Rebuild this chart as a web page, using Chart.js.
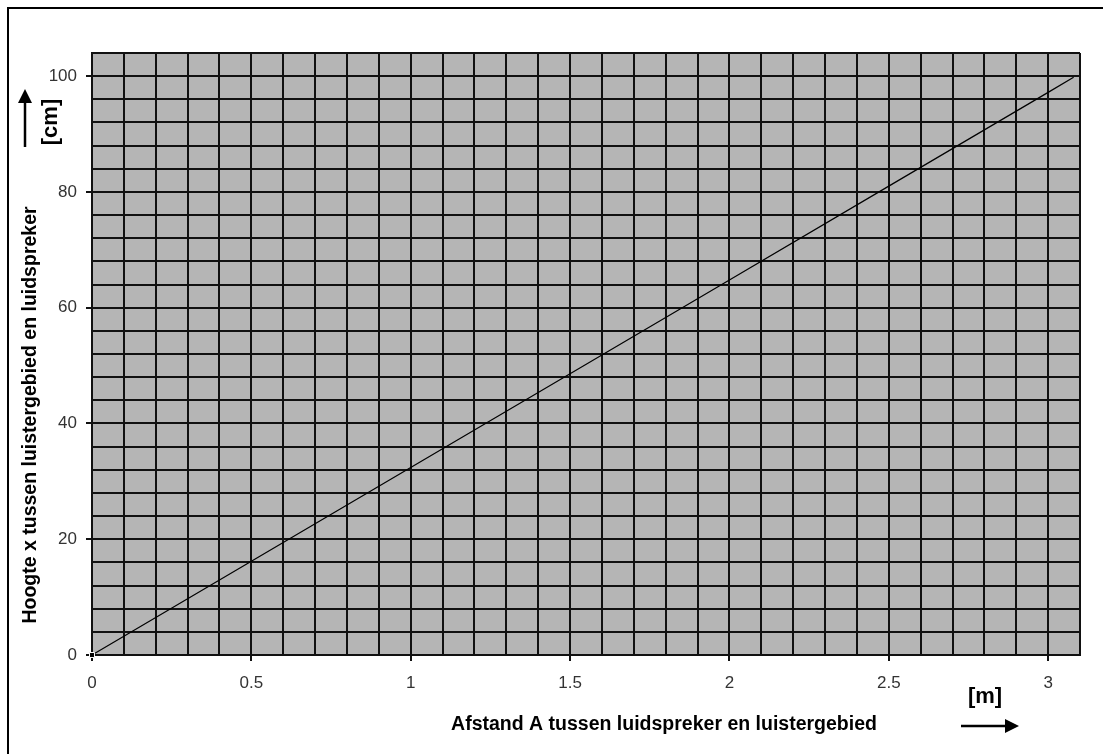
<!DOCTYPE html>
<html>
<head>
<meta charset="utf-8">
<script src="https://cdn.jsdelivr.net/npm/chart.js@4.4.1/dist/chart.umd.min.js"></script>
<style>
  html, body { margin: 0; padding: 0; background: #fff; }
  canvas { display: block; }
</style>
</head>
<body>
<canvas id="grafiek" width="1103" height="754"></canvas>
<script>
// afstand A [m] en hoogte x [cm]
const afstand = [0, 0.5, 1, 1.5, 2, 2.5, 3, 3.08];
const hoogte  = [0, 16.2, 32.4, 48.6, 64.8, 81.0, 97.2, 99.8];

// labels op de assen
const xTickLabels = [0, 0.5, 1, 1.5, 2, 2.5, 3];
const yTickLabels = [0, 20, 40, 60, 80, 100];

// rasterstappen
const X_MAX = 3.1, X_STAP = 0.1;
const Y_MAX = 104, Y_STAP = 4;

const isLabel = (lijst, v) => lijst.some(l => Math.abs(l - v) < 1e-6);

// grijze achtergrond + kader + pijlen en eenheden
const extraTekening = {
  id: "extraTekening",
  beforeDraw(chart) {
    const { ctx, chartArea: a } = chart;
    ctx.save();
    ctx.fillStyle = "#b5b5b5";
    ctx.fillRect(a.left, a.top, a.right - a.left, a.bottom - a.top);
    ctx.restore();
  },
  afterDraw(chart) {
    const ctx = chart.ctx;
    ctx.save();
    // kader (boven en links)
    ctx.strokeStyle = "#000";
    ctx.lineWidth = 2;
    ctx.beginPath();
    ctx.moveTo(8, 754);
    ctx.lineTo(8, 8);
    ctx.lineTo(1103, 8);
    ctx.stroke();

    // astitels
    ctx.fillStyle = "#000";
    ctx.font = "bold 19.5px 'Liberation Sans', Arial, sans-serif";
    ctx.textAlign = "center";
    ctx.textBaseline = "middle";
    ctx.fillText("Afstand A tussen luidspreker en luistergebied", 664, 725);

    ctx.save();
    ctx.translate(31, 415);
    ctx.rotate(-Math.PI / 2);
    ctx.fillText("Hoogte x tussen luistergebied en luidspreker", 0, 0);
    ctx.restore();

    // eenheden
    ctx.font = "bold 22px 'Liberation Sans', Arial, sans-serif";
    ctx.fillText("[m]", 985, 697);
    ctx.save();
    ctx.translate(51, 122);
    ctx.rotate(-Math.PI / 2);
    ctx.fillText("[cm]", 0, 0);
    ctx.restore();

    // pijl rechts
    ctx.lineWidth = 2.5;
    ctx.beginPath();
    ctx.moveTo(961, 726);
    ctx.lineTo(1008, 726);
    ctx.stroke();
    ctx.beginPath();
    ctx.moveTo(1019, 726);
    ctx.lineTo(1005, 719);
    ctx.lineTo(1005, 733);
    ctx.closePath();
    ctx.fill();

    // pijl omhoog
    ctx.beginPath();
    ctx.moveTo(25, 147);
    ctx.lineTo(25, 100);
    ctx.stroke();
    ctx.beginPath();
    ctx.moveTo(25, 89);
    ctx.lineTo(18, 103);
    ctx.lineTo(32, 103);
    ctx.closePath();
    ctx.fill();
    ctx.restore();
  }
};

const tickFont = { family: "'Liberation Sans', Arial, sans-serif", size: 17 };

new Chart(document.getElementById("grafiek"), {
  type: "line",
  data: {
    datasets: [{
      data: afstand.map((a, i) => ({ x: a, y: hoogte[i] })),
      borderColor: "#000",
      borderWidth: 1.2,
      tension: 0,
      pointRadius: ctx => ctx.dataIndex === 0 ? 3.5 : 0,
      pointStyle: "rect",
      pointBackgroundColor: "#000",
      pointBorderColor: "#fff",
      pointBorderWidth: 1,
      clip: false
    }]
  },
  options: {
    responsive: false,
    animation: false,
    devicePixelRatio: 1,
    layout: { padding: { left: 0, top: 53, right: 23, bottom: 0 } },
    plugins: { legend: { display: false }, tooltip: { enabled: false } },
    scales: {
      x: {
        type: "linear",
        min: 0,
        max: X_MAX,
        afterBuildTicks: scale => {
          const t = [];
          for (let i = 0; i <= Math.round(X_MAX / X_STAP); i++) t.push({ value: Math.round(i * X_STAP * 10) / 10 });
          scale.ticks = t;
        },
        afterFit: scale => { scale.height = 99; },
        ticks: {
          autoSkip: false,
          maxRotation: 0,
          padding: 12,
          color: "#333",
          font: tickFont,
          callback: v => isLabel(xTickLabels, v) ? String(v) : ""
        },
        grid: {
          color: "#111",
          lineWidth: 2,
          tickLength: 6,
          tickColor: c => isLabel(xTickLabels, c.tick.value) ? "#111" : "rgba(0,0,0,0)"
        },
        border: { color: "#111", width: 2 }
      },
      y: {
        type: "linear",
        min: 0,
        max: Y_MAX,
        afterBuildTicks: scale => {
          const t = [];
          for (let v = 0; v <= Y_MAX; v += Y_STAP) t.push({ value: v });
          scale.ticks = t;
        },
        afterFit: scale => { scale.width = 92; },
        ticks: {
          autoSkip: false,
          padding: 9,
          color: "#333",
          font: tickFont,
          callback: v => isLabel(yTickLabels, v) ? String(v) : ""
        },
        grid: {
          color: "#111",
          lineWidth: 2,
          tickLength: 6,
          tickColor: c => isLabel(yTickLabels, c.tick.value) ? "#111" : "rgba(0,0,0,0)"
        },
        border: { color: "#111", width: 2 }
      }
    }
  },
  plugins: [extraTekening]
});
</script>
</body>
</html>
